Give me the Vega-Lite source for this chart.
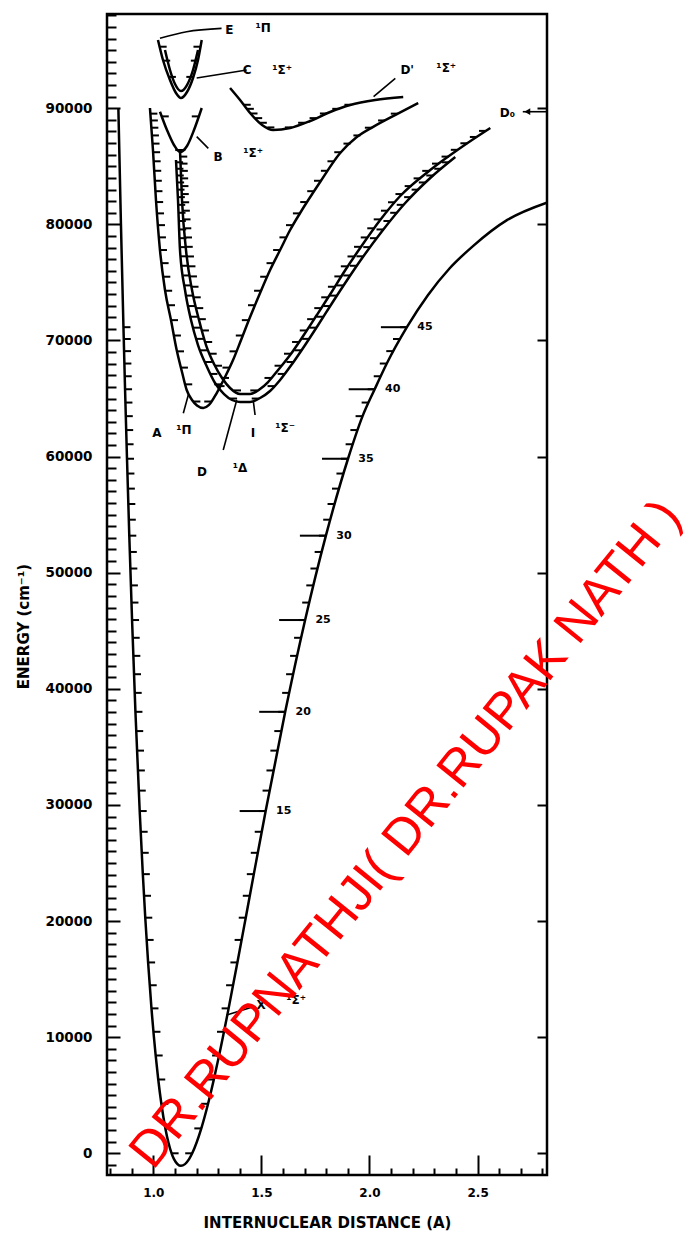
{
  "$schema": "https://vega.github.io/schema/vega-lite/v6.json",
  "width": 440,
  "height": 1161,
  "autosize": "none",
  "padding": {"left": 107, "top": 14, "right": 147, "bottom": 59},
  "background": "white",
  "config": {"view": {"stroke": "black", "strokeWidth": 2.5}, "font": "DejaVu Sans"},
  "datasets": {
    "curves": [
      {"c": "X", "i": 1, "r": 0.8386, "E": 90000}, {"c": "X", "i": 2, "r": 0.8505, "E": 80000},
      {"c": "X", "i": 3, "r": 0.8621, "E": 71145}, {"c": "X", "i": 4, "r": 0.8695, "E": 65800},
      {"c": "X", "i": 5, "r": 0.8785, "E": 59815}, {"c": "X", "i": 6, "r": 0.8891, "E": 53190},
      {"c": "X", "i": 7, "r": 0.9019, "E": 45925}, {"c": "X", "i": 8, "r": 0.9175, "E": 38020},
      {"c": "X", "i": 9, "r": 0.9372, "E": 29475}, {"c": "X", "i": 10, "r": 0.9517, "E": 24041},
      {"c": "X", "i": 11, "r": 0.963, "E": 20290}, {"c": "X", "i": 12, "r": 0.9761, "E": 16437},
      {"c": "X", "i": 13, "r": 0.9917, "E": 12481}, {"c": "X", "i": 14, "r": 1.0111, "E": 8423},
      {"c": "X", "i": 15, "r": 1.023, "E": 6356}, {"c": "X", "i": 16, "r": 1.0374, "E": 4263},
      {"c": "X", "i": 17, "r": 1.056, "E": 2144}, {"c": "X", "i": 18, "r": 1.0848, "E": 0},
      {"c": "X", "i": 19, "r": 1.0959, "E": -500}, {"c": "X", "i": 20, "r": 1.128, "E": -1081},
      {"c": "X", "i": 21, "r": 1.1656, "E": -500}, {"c": "X", "i": 22, "r": 1.1801, "E": 0},
      {"c": "X", "i": 23, "r": 1.2222, "E": 2144}, {"c": "X", "i": 24, "r": 1.2534, "E": 4263},
      {"c": "X", "i": 25, "r": 1.2801, "E": 6356}, {"c": "X", "i": 26, "r": 1.3044, "E": 8423},
      {"c": "X", "i": 27, "r": 1.3485, "E": 12481}, {"c": "X", "i": 28, "r": 1.3891, "E": 16437},
      {"c": "X", "i": 29, "r": 1.4277, "E": 20290}, {"c": "X", "i": 30, "r": 1.465, "E": 24041},
      {"c": "X", "i": 31, "r": 1.5198, "E": 29475}, {"c": "X", "i": 32, "r": 1.6102, "E": 38020},
      {"c": "X", "i": 33, "r": 1.7023, "E": 45925}, {"c": "X", "i": 34, "r": 1.7984, "E": 53190},
      {"c": "X", "i": 35, "r": 1.9007, "E": 59815}, {"c": "X", "i": 36, "r": 1.968, "E": 63483},
      {"c": "X", "i": 37, "r": 2.024, "E": 65800}, {"c": "X", "i": 38, "r": 2.08, "E": 68015},
      {"c": "X", "i": 39, "r": 2.173, "E": 71145}, {"c": "X", "i": 40, "r": 2.27, "E": 73900},
      {"c": "X", "i": 41, "r": 2.37, "E": 76200}, {"c": "X", "i": 42, "r": 2.48, "E": 78150},
      {"c": "X", "i": 43, "r": 2.6375, "E": 80383}, {"c": "X", "i": 44, "r": 2.82, "E": 81870},

      {"c": "A", "i": 1, "r": 0.9847, "E": 90020}, {"c": "A", "i": 2, "r": 0.9986, "E": 86404},
      {"c": "A", "i": 3, "r": 1.0125, "E": 82097}, {"c": "A", "i": 4, "r": 1.031, "E": 77790},
      {"c": "A", "i": 5, "r": 1.0542, "E": 74345}, {"c": "A", "i": 6, "r": 1.0819, "E": 71762},
      {"c": "A", "i": 7, "r": 1.1083, "E": 69181}, {"c": "A", "i": 8, "r": 1.1329, "E": 67286},
      {"c": "A", "i": 9, "r": 1.1546, "E": 65735}, {"c": "A", "i": 10, "r": 1.1792, "E": 64874},
      {"c": "A", "i": 11, "r": 1.2023, "E": 64400}, {"c": "A", "i": 12, "r": 1.2315, "E": 64186},
      {"c": "A", "i": 13, "r": 1.2579, "E": 64450}, {"c": "A", "i": 14, "r": 1.2935, "E": 65477},
      {"c": "A", "i": 15, "r": 1.3319, "E": 66855}, {"c": "A", "i": 16, "r": 1.369, "E": 68320},
      {"c": "A", "i": 17, "r": 1.406, "E": 70042}, {"c": "A", "i": 18, "r": 1.4477, "E": 72022},
      {"c": "A", "i": 19, "r": 1.494, "E": 74089}, {"c": "A", "i": 20, "r": 1.5403, "E": 76068},
      {"c": "A", "i": 21, "r": 1.5866, "E": 77790}, {"c": "A", "i": 22, "r": 1.6329, "E": 79513},
      {"c": "A", "i": 23, "r": 1.6792, "E": 80977}, {"c": "A", "i": 24, "r": 1.7718, "E": 83647},
      {"c": "A", "i": 25, "r": 1.8644, "E": 86145}, {"c": "A", "i": 26, "r": 1.94, "E": 87500},
      {"c": "A", "i": 27, "r": 2.0171, "E": 88400}, {"c": "A", "i": 28, "r": 2.1269, "E": 89500},
      {"c": "A", "i": 29, "r": 2.2255, "E": 90450},

      {"c": "D", "i": 1, "r": 1.1236, "E": 86404}, {"c": "D", "i": 2, "r": 1.1329, "E": 82097},
      {"c": "D", "i": 3, "r": 1.1514, "E": 77790}, {"c": "D", "i": 4, "r": 1.1792, "E": 74345},
      {"c": "D", "i": 5, "r": 1.2116, "E": 71762}, {"c": "D", "i": 6, "r": 1.244, "E": 69609},
      {"c": "D", "i": 7, "r": 1.281, "E": 67973}, {"c": "D", "i": 8, "r": 1.3181, "E": 66767},
      {"c": "D", "i": 9, "r": 1.3551, "E": 65906}, {"c": "D", "i": 10, "r": 1.4014, "E": 65389},
      {"c": "D", "i": 11, "r": 1.4477, "E": 65389}, {"c": "D", "i": 12, "r": 1.494, "E": 65820},
      {"c": "D", "i": 13, "r": 1.531, "E": 66423}, {"c": "D", "i": 14, "r": 1.5773, "E": 67456},
      {"c": "D", "i": 15, "r": 1.6329, "E": 68748}, {"c": "D", "i": 16, "r": 1.6931, "E": 70384},
      {"c": "D", "i": 17, "r": 1.7565, "E": 72193}, {"c": "D", "i": 18, "r": 1.819, "E": 74001},
      {"c": "D", "i": 19, "r": 1.8884, "E": 76068}, {"c": "D", "i": 20, "r": 1.9569, "E": 77963},
      {"c": "D", "i": 21, "r": 2.0495, "E": 80375}, {"c": "D", "i": 22, "r": 2.1421, "E": 82442},
      {"c": "D", "i": 23, "r": 2.281, "E": 84681}, {"c": "D", "i": 24, "r": 2.4199, "E": 86576},
      {"c": "D", "i": 25, "r": 2.5588, "E": 88298},

      {"c": "I", "i": 1, "r": 1.1051, "E": 85543}, {"c": "I", "i": 2, "r": 1.1144, "E": 82097},
      {"c": "I", "i": 3, "r": 1.1236, "E": 77790}, {"c": "I", "i": 4, "r": 1.1468, "E": 74345},
      {"c": "I", "i": 5, "r": 1.1745, "E": 71762}, {"c": "I", "i": 6, "r": 1.2069, "E": 69609},
      {"c": "I", "i": 7, "r": 1.2486, "E": 67714}, {"c": "I", "i": 8, "r": 1.2856, "E": 66337},
      {"c": "I", "i": 9, "r": 1.3273, "E": 65389}, {"c": "I", "i": 10, "r": 1.3644, "E": 64874},
      {"c": "I", "i": 11, "r": 1.4014, "E": 64702}, {"c": "I", "i": 12, "r": 1.4477, "E": 64702},
      {"c": "I", "i": 13, "r": 1.494, "E": 65047}, {"c": "I", "i": 14, "r": 1.5403, "E": 65649},
      {"c": "I", "i": 15, "r": 1.5866, "E": 66597}, {"c": "I", "i": 16, "r": 1.6421, "E": 67973},
      {"c": "I", "i": 17, "r": 1.7023, "E": 69609}, {"c": "I", "i": 18, "r": 1.7625, "E": 71332},
      {"c": "I", "i": 19, "r": 1.8273, "E": 73226}, {"c": "I", "i": 20, "r": 1.8968, "E": 75207},
      {"c": "I", "i": 21, "r": 1.9662, "E": 77101}, {"c": "I", "i": 22, "r": 2.0588, "E": 79427},
      {"c": "I", "i": 23, "r": 2.1653, "E": 81838}, {"c": "I", "i": 24, "r": 2.281, "E": 83991},
      {"c": "I", "i": 25, "r": 2.3968, "E": 85800},

      {"c": "B", "i": 1, "r": 1.031, "E": 89702}, {"c": "B", "i": 2, "r": 1.0634, "E": 88126},
      {"c": "B", "i": 3, "r": 1.0958, "E": 86834}, {"c": "B", "i": 4, "r": 1.1236, "E": 86232},
      {"c": "B", "i": 5, "r": 1.156, "E": 86749}, {"c": "B", "i": 6, "r": 1.1884, "E": 88126},
      {"c": "B", "i": 7, "r": 1.2241, "E": 90020},

      {"c": "E", "i": 1, "r": 1.0218, "E": 95877}, {"c": "E", "i": 2, "r": 1.0449, "E": 94154},
      {"c": "E", "i": 3, "r": 1.0773, "E": 92432}, {"c": "E", "i": 4, "r": 1.1051, "E": 91313},
      {"c": "E", "i": 5, "r": 1.1282, "E": 90882}, {"c": "E", "i": 6, "r": 1.156, "E": 91399},
      {"c": "E", "i": 7, "r": 1.1838, "E": 92604}, {"c": "E", "i": 8, "r": 1.2069, "E": 94154},
      {"c": "E", "i": 9, "r": 1.2241, "E": 95877},

      {"c": "C", "i": 1, "r": 1.0542, "E": 95016}, {"c": "C", "i": 2, "r": 1.0773, "E": 93293},
      {"c": "C", "i": 3, "r": 1.1005, "E": 92087}, {"c": "C", "i": 4, "r": 1.1282, "E": 91485},
      {"c": "C", "i": 5, "r": 1.156, "E": 92001}, {"c": "C", "i": 6, "r": 1.1838, "E": 93293},
      {"c": "C", "i": 7, "r": 1.2069, "E": 95016},

      {"c": "Dp", "i": 1, "r": 1.3551, "E": 91743}, {"c": "Dp", "i": 2, "r": 1.4014, "E": 90709},
      {"c": "Dp", "i": 3, "r": 1.4477, "E": 89590}, {"c": "Dp", "i": 4, "r": 1.5032, "E": 88557},
      {"c": "Dp", "i": 5, "r": 1.5542, "E": 88126}, {"c": "Dp", "i": 6, "r": 1.6329, "E": 88298},
      {"c": "Dp", "i": 7, "r": 1.7255, "E": 88901}, {"c": "Dp", "i": 8, "r": 1.8181, "E": 89676},
      {"c": "Dp", "i": 9, "r": 1.9106, "E": 90278}, {"c": "Dp", "i": 10, "r": 2.0264, "E": 90709},
      {"c": "Dp", "i": 11, "r": 2.156, "E": 90968}
    ],
    "levels": [
      {"s": "X", "v": 0, "E": 0, "rl": 1.0848, "rr": 1.1801},
      {"s": "X", "v": 1, "E": 2144, "rl": 1.056, "rr": 1.2222},
      {"s": "X", "v": 2, "E": 4263, "rl": 1.0374, "rr": 1.2534},
      {"s": "X", "v": 3, "E": 6356, "rl": 1.023, "rr": 1.2801},
      {"s": "X", "v": 4, "E": 8423, "rl": 1.0111, "rr": 1.3044},
      {"s": "X", "v": 5, "E": 10465, "rl": 1.0008, "rr": 1.327},
      {"s": "X", "v": 6, "E": 12481, "rl": 0.9917, "rr": 1.3485},
      {"s": "X", "v": 7, "E": 14472, "rl": 0.9835, "rr": 1.3691},
      {"s": "X", "v": 8, "E": 16437, "rl": 0.9761, "rr": 1.3891},
      {"s": "X", "v": 9, "E": 18376, "rl": 0.9693, "rr": 1.4086},
      {"s": "X", "v": 10, "E": 20290, "rl": 0.963, "rr": 1.4277},
      {"s": "X", "v": 11, "E": 22178, "rl": 0.9572, "rr": 1.4464},
      {"s": "X", "v": 12, "E": 24041, "rl": 0.9517, "rr": 1.465},
      {"s": "X", "v": 13, "E": 25878, "rl": 0.9466, "rr": 1.4834},
      {"s": "X", "v": 14, "E": 27689, "rl": 0.9417, "rr": 1.5016},
      {"s": "X", "v": 15, "E": 29475, "rl": 0.9372, "rr": 1.5198, "lab": "15"},
      {"s": "X", "v": 16, "E": 31235, "rl": 0.9328, "rr": 1.5379},
      {"s": "X", "v": 17, "E": 32970, "rl": 0.9287, "rr": 1.5559},
      {"s": "X", "v": 18, "E": 34679, "rl": 0.9248, "rr": 1.574},
      {"s": "X", "v": 19, "E": 36362, "rl": 0.9211, "rr": 1.5921},
      {"s": "X", "v": 20, "E": 38020, "rl": 0.9175, "rr": 1.6102, "lab": "20"},
      {"s": "X", "v": 21, "E": 39652, "rl": 0.9141, "rr": 1.6284},
      {"s": "X", "v": 22, "E": 41259, "rl": 0.9109, "rr": 1.6467},
      {"s": "X", "v": 23, "E": 42840, "rl": 0.9078, "rr": 1.6651},
      {"s": "X", "v": 24, "E": 44395, "rl": 0.9048, "rr": 1.6836},
      {"s": "X", "v": 25, "E": 45925, "rl": 0.9019, "rr": 1.7023, "lab": "25"},
      {"s": "X", "v": 26, "E": 47429, "rl": 0.8991, "rr": 1.7211},
      {"s": "X", "v": 27, "E": 48908, "rl": 0.8965, "rr": 1.7401},
      {"s": "X", "v": 28, "E": 50361, "rl": 0.8939, "rr": 1.7593},
      {"s": "X", "v": 29, "E": 51788, "rl": 0.8915, "rr": 1.7787},
      {"s": "X", "v": 30, "E": 53190, "rl": 0.8891, "rr": 1.7984, "lab": "30"},
      {"s": "X", "v": 31, "E": 54566, "rl": 0.8868, "rr": 1.8183},
      {"s": "X", "v": 32, "E": 55917, "rl": 0.8846, "rr": 1.8384},
      {"s": "X", "v": 33, "E": 57242, "rl": 0.8825, "rr": 1.8589},
      {"s": "X", "v": 34, "E": 58541, "rl": 0.8804, "rr": 1.8796},
      {"s": "X", "v": 35, "E": 59815, "rl": 0.8785, "rr": 1.9007, "lab": "35"},
      {"s": "X", "v": 36, "E": 61063, "rl": 0.8765, "rr": 1.922},
      {"s": "X", "v": 37, "E": 62286, "rl": 0.8747, "rr": 1.944},
      {"s": "X", "v": 38, "E": 63483, "rl": 0.8729, "rr": 1.968},
      {"s": "X", "v": 39, "E": 64654, "rl": 0.8712, "rr": 1.996},
      {"s": "X", "v": 40, "E": 65800, "rl": 0.8695, "rr": 2.024, "lab": "40"},
      {"s": "X", "v": 41, "E": 66920, "rl": 0.8679, "rr": 2.052},
      {"s": "X", "v": 42, "E": 68015, "rl": 0.8664, "rr": 2.08},
      {"s": "X", "v": 43, "E": 69084, "rl": 0.8649, "rr": 2.11},
      {"s": "X", "v": 44, "E": 70127, "rl": 0.8635, "rr": 2.141},
      {"s": "X", "v": 45, "E": 71145, "rl": 0.8621, "rr": 2.173, "lab": "45"},

      {"s": "A", "v": 0, "E": 64744, "rl": 1.1855, "rr": 1.2681},
      {"s": "A", "v": 1, "E": 66223, "rl": 1.1478, "rr": 1.3143},
      {"s": "A", "v": 2, "E": 67664, "rl": 1.128, "rr": 1.3524},
      {"s": "A", "v": 3, "E": 69065, "rl": 1.1098, "rr": 1.385},
      {"s": "A", "v": 4, "E": 70428, "rl": 1.0955, "rr": 1.4141},
      {"s": "A", "v": 5, "E": 71752, "rl": 1.082, "rr": 1.442},
      {"s": "A", "v": 6, "E": 73037, "rl": 1.0682, "rr": 1.4704},
      {"s": "A", "v": 7, "E": 74284, "rl": 1.0549, "rr": 1.4986},
      {"s": "A", "v": 8, "E": 75491, "rl": 1.0465, "rr": 1.5268},
      {"s": "A", "v": 9, "E": 76660, "rl": 1.0386, "rr": 1.5562},
      {"s": "A", "v": 10, "E": 77790, "rl": 1.031, "rr": 1.5866},
      {"s": "A", "v": 11, "E": 78881, "rl": 1.0263, "rr": 1.6159},
      {"s": "A", "v": 12, "E": 79934, "rl": 1.0218, "rr": 1.6462},
      {"s": "A", "v": 13, "E": 80947, "rl": 1.0174, "rr": 1.6782},
      {"s": "A", "v": 14, "E": 81922, "rl": 1.0133, "rr": 1.712},
      {"s": "A", "v": 15, "E": 82858, "rl": 1.01, "rr": 1.7444},
      {"s": "A", "v": 16, "E": 83755, "rl": 1.0071, "rr": 1.7758},
      {"s": "A", "v": 17, "E": 84614, "rl": 1.0044, "rr": 1.8076},
      {"s": "A", "v": 18, "E": 85433, "rl": 1.0017, "rr": 1.838},
      {"s": "A", "v": 19, "E": 86214, "rl": 0.9992, "rr": 1.8695},
      {"s": "A", "v": 20, "E": 86956, "rl": 0.9965, "rr": 1.912},
      {"s": "A", "v": 21, "E": 87659, "rl": 0.9938, "rr": 1.958},
      {"s": "A", "v": 22, "E": 88324, "rl": 0.9912, "rr": 2.011},
      {"s": "A", "v": 23, "E": 88949, "rl": 0.9888, "rr": 2.072},
      {"s": "A", "v": 24, "E": 89536, "rl": 0.9866, "rr": 2.131},

      {"s": "D", "v": 0, "E": 65700, "rl": 1.3735, "rr": 1.4811},
      {"s": "D", "v": 1, "E": 66774, "rl": 1.3179, "rr": 1.5467},
      {"s": "D", "v": 2, "E": 67827, "rl": 1.2855, "rr": 1.5933},
      {"s": "D", "v": 3, "E": 68860, "rl": 1.2609, "rr": 1.637},
      {"s": "D", "v": 4, "E": 69872, "rl": 1.24, "rr": 1.6743},
      {"s": "D", "v": 5, "E": 70864, "rl": 1.2251, "rr": 1.7099},
      {"s": "D", "v": 6, "E": 71836, "rl": 1.2107, "rr": 1.744},
      {"s": "D", "v": 7, "E": 72787, "rl": 1.1987, "rr": 1.777},
      {"s": "D", "v": 8, "E": 73718, "rl": 1.1871, "rr": 1.8092},
      {"s": "D", "v": 9, "E": 74628, "rl": 1.1769, "rr": 1.8401},
      {"s": "D", "v": 10, "E": 75518, "rl": 1.1697, "rr": 1.8699},
      {"s": "D", "v": 11, "E": 76388, "rl": 1.1627, "rr": 1.8998},
      {"s": "D", "v": 12, "E": 77237, "rl": 1.1558, "rr": 1.9307},
      {"s": "D", "v": 13, "E": 78066, "rl": 1.1502, "rr": 1.9609},
      {"s": "D", "v": 14, "E": 78874, "rl": 1.1467, "rr": 1.9919},
      {"s": "D", "v": 15, "E": 79662, "rl": 1.1434, "rr": 2.0221},
      {"s": "D", "v": 16, "E": 80430, "rl": 1.14, "rr": 2.052},
      {"s": "D", "v": 17, "E": 81177, "rl": 1.1368, "rr": 2.0854},
      {"s": "D", "v": 18, "E": 81904, "rl": 1.1337, "rr": 2.118},
      {"s": "D", "v": 19, "E": 82610, "rl": 1.1318, "rr": 2.1525},
      {"s": "D", "v": 20, "E": 83296, "rl": 1.1303, "rr": 2.1951},
      {"s": "D", "v": 21, "E": 83962, "rl": 1.1289, "rr": 2.2364},
      {"s": "D", "v": 22, "E": 84607, "rl": 1.1275, "rr": 2.2764},
      {"s": "D", "v": 23, "E": 85232, "rl": 1.1261, "rr": 2.3214},
      {"s": "D", "v": 24, "E": 85836, "rl": 1.1248, "rr": 2.3657},
      {"s": "D", "v": 25, "E": 86420, "rr": 2.4085},
      {"s": "D", "v": 26, "E": 86984, "rr": 2.4528},
      {"s": "D", "v": 27, "E": 87527, "rr": 2.4966},
      {"s": "D", "v": 28, "E": 88050, "rr": 2.539},

      {"s": "I", "v": 0, "E": 65000, "rl": 1.3553, "rr": 1.4877},
      {"s": "I", "v": 1, "E": 66071, "rl": 1.2973, "rr": 1.5609},
      {"s": "I", "v": 2, "E": 67120, "rl": 1.2646, "rr": 1.6077},
      {"s": "I", "v": 3, "E": 68148, "rl": 1.239, "rr": 1.6485},
      {"s": "I", "v": 4, "E": 69154, "rl": 1.2169, "rr": 1.6856},
      {"s": "I", "v": 5, "E": 70139, "rl": 1.1989, "rr": 1.7208},
      {"s": "I", "v": 6, "E": 71103, "rl": 1.1844, "rr": 1.7545},
      {"s": "I", "v": 7, "E": 72045, "rl": 1.1715, "rr": 1.7869},
      {"s": "I", "v": 8, "E": 72966, "rl": 1.1616, "rr": 1.8184},
      {"s": "I", "v": 9, "E": 73865, "rl": 1.1519, "rr": 1.8497},
      {"s": "I", "v": 10, "E": 74743, "rl": 1.1441, "rr": 1.8805},
      {"s": "I", "v": 11, "E": 75600, "rl": 1.1384, "rr": 1.9112},
      {"s": "I", "v": 12, "E": 76435, "rl": 1.1327, "rr": 1.9418},
      {"s": "I", "v": 13, "E": 77249, "rl": 1.1272, "rr": 1.9721},
      {"s": "I", "v": 14, "E": 78041, "rl": 1.1231, "rr": 2.0036},
      {"s": "I", "v": 15, "E": 78812, "rl": 1.1214, "rr": 2.0343},
      {"s": "I", "v": 16, "E": 79562, "rl": 1.1198, "rr": 2.0648},
      {"s": "I", "v": 17, "E": 80290, "rl": 1.1182, "rr": 2.0969},
      {"s": "I", "v": 18, "E": 80997, "rl": 1.1167, "rr": 2.1281},
      {"s": "I", "v": 19, "E": 81682, "rl": 1.1153, "rr": 2.1584},
      {"s": "I", "v": 20, "E": 82346, "rl": 1.1137, "rr": 2.1926},
      {"s": "I", "v": 21, "E": 82989, "rl": 1.112, "rr": 2.2272},
      {"s": "I", "v": 22, "E": 83610, "rl": 1.1103, "rr": 2.2605},
      {"s": "I", "v": 23, "E": 84210, "rl": 1.1087, "rr": 2.295},
      {"s": "I", "v": 24, "E": 84788, "rl": 1.1071, "rr": 2.332},
      {"s": "I", "v": 25, "E": 85345, "rl": 1.1056, "rr": 2.3677},

      {"s": "B", "v": 0, "E": 86400, "rl": 1.1158, "rr": 1.1341},
      {"s": "B", "v": 1, "E": 89300, "rl": 1.0393, "rr": 1.2105},

      {"s": "E", "v": 0, "E": 92700, "rl": 1.0723, "rr": 1.1852},
      {"s": "E", "v": 1, "E": 94100, "rl": 1.0459, "rr": 1.2061},
      {"s": "E", "v": 2, "E": 95300, "rl": 1.0295, "rr": 1.2183},

      {"s": "Dp", "v": 0, "E": 88350, "rl": 1.5277, "rr": 1.6409},
      {"s": "Dp", "v": 1, "E": 88750, "rl": 1.4928, "rr": 1.7023},
      {"s": "Dp", "v": 2, "E": 89150, "rl": 1.4713, "rr": 1.7553},
      {"s": "Dp", "v": 3, "E": 89550, "rl": 1.4498, "rr": 1.803},
      {"s": "Dp", "v": 4, "E": 89950, "rl": 1.4328, "rr": 1.8602},
      {"s": "Dp", "v": 5, "E": 90300, "rl": 1.4183, "rr": 1.9165}
    ],
    "leaders": [
      {"id": "E", "i": 1, "r": 1.031, "E": 96020}, {"id": "E", "i": 2, "r": 1.1546, "E": 96594}, {"id": "E", "i": 3, "r": 1.3158, "E": 96882},
      {"id": "C", "i": 1, "r": 1.2009, "E": 92604}, {"id": "C", "i": 2, "r": 1.4324, "E": 93293},
      {"id": "Dp", "i": 1, "r": 2.019, "E": 90997}, {"id": "Dp", "i": 2, "r": 2.1194, "E": 92582},
      {"id": "B", "i": 1, "r": 1.2009, "E": 87551}, {"id": "B", "i": 2, "r": 1.2546, "E": 86550},
      {"id": "A", "i": 1, "r": 1.1389, "E": 63730}, {"id": "A", "i": 2, "r": 1.162, "E": 65303},
      {"id": "D", "i": 1, "r": 1.3236, "E": 60569}, {"id": "D", "i": 2, "r": 1.3861, "E": 64874},
      {"id": "I", "i": 1, "r": 1.463, "E": 64728}, {"id": "I", "i": 2, "r": 1.4708, "E": 63583},
      {"id": "X", "i": 1, "r": 1.3398, "E": 11910}, {"id": "X", "i": 2, "r": 1.463, "E": 12625},
      {"id": "D0", "i": 1, "r": 2.709, "E": 89702}, {"id": "D0", "i": 2, "r": 2.821, "E": 89702}
    ],
    "arrowheads": [{"r": 2.73, "E": 89702}],
    "labels": [
      {"t": "E", "r": 1.3514, "E": 96738}, {"t": "¹Π", "r": 1.5079, "E": 96910},
      {"t": "C", "r": 1.4338, "E": 93293}, {"t": "¹Σ⁺", "r": 1.5958, "E": 93293},
      {"t": "D'", "r": 2.1745, "E": 93293}, {"t": "¹Σ⁺", "r": 2.3551, "E": 93465},
      {"t": "B", "r": 1.2995, "E": 85800}, {"t": "¹Σ⁺", "r": 1.4616, "E": 86145},
      {"t": "D₀", "r": 2.6375, "E": 89590},
      {"t": "A", "r": 1.0171, "E": 62030}, {"t": "¹Π", "r": 1.1421, "E": 62289},
      {"t": "D", "r": 1.2255, "E": 58674}, {"t": "¹Δ", "r": 1.4014, "E": 59018},
      {"t": "I", "r": 1.4616, "E": 62030}, {"t": "¹Σ⁻", "r": 1.6097, "E": 62460},
      {"t": "X", "r": 1.4986, "E": 12772}, {"t": "¹Σ⁺", "r": 1.6606, "E": 13202}
    ],
    "stamp": [{"t": "DR.RUPNATHJI( DR.RUPAK NATH )", "r": 2.17, "E": 27450}]
  },
  "layer": [
    {
      "data": {"name": "curves"},
      "mark": {"type": "line", "color": "black", "strokeWidth": 2.5, "interpolate": "monotone", "clip": true},
      "encoding": {
        "x": {
          "field": "r", "type": "quantitative",
          "scale": {"domain": [0.786, 2.821], "nice": false, "zero": false},
          "axis": {
            "orient": "bottom",
            "values": [0.8, 0.9, 1.1, 1.2, 1.3, 1.4, 1.6, 1.7, 1.8, 1.9, 2.1, 2.2, 2.3, 2.4, 2.6, 2.7, 2.8],
            "domain": false, "grid": false, "labels": false, "title": null,
            "tickColor": "black", "tickWidth": 2, "tickSize": -7
          }
        },
        "y": {
          "field": "E", "type": "quantitative",
          "scale": {"domain": [-1869, 98117], "nice": false, "zero": false},
          "axis": {
            "orient": "left", "tickCount": 99,
            "domain": false, "grid": false,
            "tickColor": "black", "tickWidth": 2,
            "tickSize": {"condition": {"test": "datum.value % 10000 === 0", "value": -13}, "value": -9},
            "labelExpr": "datum.value % 10000 === 0 ? format(datum.value, 'd') : ''",
            "labelFont": "DejaVu Sans", "labelFontWeight": "bold", "labelFontSize": 13.5, "labelColor": "black",
            "labelPadding": 28, "labelOverlap": false, "labelFlush": false, "labelBound": false,
            "title": "ENERGY (cm⁻¹)",
            "titleFont": "DejaVu Sans", "titleFontWeight": "bold", "titleFontSize": 15, "titleColor": "black",
            "titleX": -84, "titleY": 612, "titleAngle": 270, "titleBaseline": "middle", "titleAlign": "center"
          }
        },
        "detail": {"field": "c"},
        "order": {"field": "i", "type": "quantitative"}
      }
    },
    {
      "data": {"name": "levels"},
      "transform": [{"filter": "isValid(datum.rl)"}],
      "mark": {"type": "rule", "color": "black", "strokeWidth": 2, "x2Offset": 7},
      "encoding": {
        "x": {
          "field": "rl", "type": "quantitative",
          "axis": {
            "orient": "bottom", "values": [1, 1.5, 2, 2.5],
            "domain": false, "grid": false,
            "tickColor": "black", "tickWidth": 2, "tickSize": -20,
            "format": ".1f",
            "labelFont": "DejaVu Sans", "labelFontWeight": "bold", "labelFontSize": 12, "labelColor": "black",
            "labelPadding": 32, "labelOverlap": false, "labelFlush": false, "labelBound": false,
            "title": "INTERNUCLEAR DISTANCE (A)",
            "titleFont": "DejaVu Sans", "titleFontWeight": "bold", "titleFontSize": 15, "titleColor": "black",
            "titleY": 47, "titleBaseline": "middle"
          }
        },
        "x2": {"field": "rl"},
        "y": {
          "field": "E", "type": "quantitative",
          "axis": {
            "orient": "right", "values": [0, 10000, 20000, 30000, 40000, 50000, 60000, 70000, 80000, 90000],
            "domain": false, "grid": false, "labels": false, "title": null,
            "tickSize": -10, "tickWidth": 2, "tickColor": "black"
          }
        }
      }
    },
    {
      "data": {"name": "levels"},
      "transform": [{"filter": "isValid(datum.rr)"}],
      "mark": {"type": "rule", "color": "black", "strokeWidth": 2, "x2Offset": -7},
      "encoding": {
        "x": {"field": "rr", "type": "quantitative", "axis": null},
        "x2": {"field": "rr"},
        "y": {"field": "E", "type": "quantitative", "axis": null}
      }
    },
    {
      "data": {"name": "levels"},
      "transform": [{"filter": "isValid(datum.lab)"}],
      "mark": {"type": "rule", "color": "black", "strokeWidth": 2, "x2Offset": -26},
      "encoding": {
        "x": {"field": "rr", "type": "quantitative", "axis": null},
        "x2": {"field": "rr"},
        "y": {"field": "E", "type": "quantitative", "axis": null}
      }
    },
    {
      "data": {"name": "levels"},
      "transform": [{"filter": "isValid(datum.lab)"}],
      "mark": {"type": "text", "color": "black", "font": "DejaVu Sans", "fontWeight": "bold", "fontSize": 11, "dx": 18, "align": "center", "baseline": "middle"},
      "encoding": {
        "x": {"field": "rr", "type": "quantitative", "axis": null},
        "y": {"field": "E", "type": "quantitative", "axis": null},
        "text": {"field": "lab"}
      }
    },
    {
      "data": {"name": "leaders"},
      "mark": {"type": "line", "color": "black", "strokeWidth": 1.6, "interpolate": "monotone"},
      "encoding": {
        "x": {"field": "r", "type": "quantitative", "axis": null},
        "y": {"field": "E", "type": "quantitative", "axis": null},
        "detail": {"field": "id"},
        "order": {"field": "i", "type": "quantitative"}
      }
    },
    {
      "data": {"name": "arrowheads"},
      "mark": {"type": "point", "shape": "triangle-left", "filled": true, "color": "black", "size": 45, "opacity": 1},
      "encoding": {
        "x": {"field": "r", "type": "quantitative", "axis": null},
        "y": {"field": "E", "type": "quantitative", "axis": null}
      }
    },
    {
      "data": {"name": "labels"},
      "mark": {"type": "text", "color": "black", "font": "DejaVu Sans", "fontWeight": "bold", "fontSize": 12, "align": "center", "baseline": "middle"},
      "encoding": {
        "x": {"field": "r", "type": "quantitative", "axis": null},
        "y": {"field": "E", "type": "quantitative", "axis": null},
        "text": {"field": "t"}
      }
    },
    {
      "data": {"name": "stamp"},
      "mark": {"type": "text", "color": "#ff0000", "font": "Liberation Sans", "fontSize": 51, "angle": 309, "align": "center", "baseline": "middle"},
      "encoding": {
        "x": {"field": "r", "type": "quantitative", "axis": null},
        "y": {"field": "E", "type": "quantitative", "axis": null},
        "text": {"field": "t"}
      }
    }
  ],
  "resolve": {"axis": {"x": "independent", "y": "independent"}}
}
